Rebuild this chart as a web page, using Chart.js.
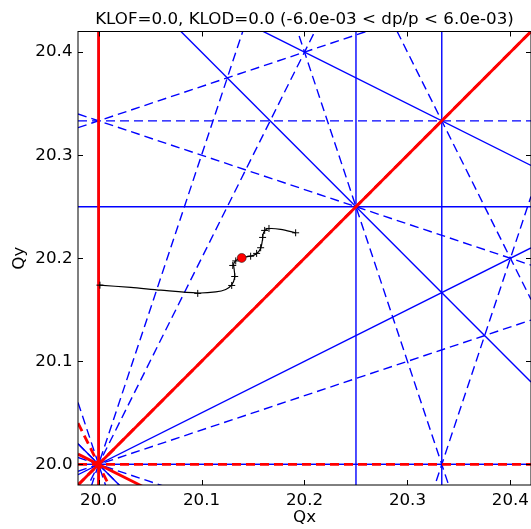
<!DOCTYPE html>
<html>
<head>
<meta charset="utf-8">
<title>Tune footprint</title>
<script src="https://cdn.jsdelivr.net/npm/chart.js@4.4.1/dist/chart.umd.min.js"></script>
<style>
  html, body { margin: 0; padding: 0; background: #fff; overflow: hidden; }
  #wrap { width: 531px; height: 529px; }
  #tuneChart { display: block; }
</style>
</head>
<body>
<div id="wrap"><canvas id="tuneChart" width="531" height="529"></canvas></div>
<script>
// axis limits and ticks
var qxLimits = [19.98, 20.42];
var qyLimits = [19.98, 20.42];
var qxTicks = [20.0, 20.1, 20.2, 20.3, 20.4];
var qyTicks = [20.0, 20.1, 20.2, 20.3, 20.4];

// resonance lines m*Qx + n*Qy = p up to 4th order
var resonances = [
    [1, 0, 20], [0, 1, 20],
    [2, 0, 40], [0, 2, 40], [1, 1, 40], [1, -1, 0],
    [3, 0, 60], [3, 0, 61], [0, 3, 60], [0, 3, 61],
    [2, 1, 60], [2, 1, 61], [1, 2, 60], [1, 2, 61],
    [2, -1, 20], [1, -2, -20],
    [4, 0, 80], [4, 0, 81], [0, 4, 80], [0, 4, 81],
    [3, 1, 80], [3, 1, 81], [1, 3, 80], [1, 3, 81],
    [2, 2, 80], [2, 2, 81], [2, -2, 0],
    [3, -1, 40], [3, -1, 41], [1, -3, -40], [1, -3, -41]
];
var superPeriod = 6;

// tune vs dp/p
var detuneQx = [20.0006, 20.0313, 20.0604, 20.0963, 20.1138, 20.1235, 20.1293, 20.1322, 20.1317, 20.1312,
                20.1341, 20.1390, 20.1477, 20.1531, 20.1574, 20.1591, 20.1603, 20.1642, 20.1768, 20.1914];
var detuneQy = [20.1739, 20.1717, 20.1690, 20.1663, 20.1673, 20.1697, 20.1741, 20.1814, 20.1891, 20.1945,
                20.1984, 20.2005, 20.2020, 20.2042, 20.2095, 20.2173, 20.2250, 20.2286, 20.2281, 20.2247];
var stepQx = [20.0013, 20.0963, 20.1293, 20.1322, 20.1303, 20.1332, 20.1477, 20.1535, 20.1574, 20.1593, 20.1613, 20.1655, 20.1914];
var stepQy = [20.1739, 20.1659, 20.1736, 20.1823, 20.1930, 20.1974, 20.2020, 20.2047, 20.2102, 20.2202, 20.2270, 20.2289, 20.2247];
var nominalTune = [20.1390, 20.2003];

var axisFont = { family: 'DejaVu Sans', size: 16.7, weight: 'normal' };

function resonanceSegment(m, n, p) {
    if (n === 0) {
        return [{ x: p / m, y: qyLimits[0] }, { x: p / m, y: qyLimits[1] }];
    }
    return qxLimits.map(function(qx) {
        return { x: qx, y: (p - m * qx) / n };
    });
}

var datasets = [];

resonances.forEach(function(r) {
    var systematic = r[2] % superPeriod === 0;
    var skew = Math.abs(r[1]) % 2 === 1;
    datasets.push({
        data: resonanceSegment(r[0], r[1], r[2]),
        showLine: true,
        pointRadius: 0,
        borderColor: systematic ? '#ff0000' : '#0000ff',
        borderWidth: systematic ? 2.8 : 1.4,
        borderDash: skew ? [9, 5] : [],
        clip: 0,
        order: systematic ? 3 : 4
    });
});

// detuning curve
datasets.push({
    data: detuneQx.map(function(q, i) { return { x: q, y: detuneQy[i] }; }),
    showLine: true,
    pointRadius: 0,
    borderColor: '#000',
    borderWidth: 1.2,
    tension: 0.3,
    order: 2
});

// dp/p steps
datasets.push({
    data: stepQx.map(function(q, i) { return { x: q, y: stepQy[i] }; }),
    showLine: false,
    pointStyle: 'cross',
    pointRadius: 3.5,
    borderColor: '#000',
    borderWidth: 1,
    order: 1
});

// on-momentum tune
datasets.push({
    data: [{ x: nominalTune[0], y: nominalTune[1] }],
    showLine: false,
    pointStyle: 'circle',
    pointRadius: 4.5,
    backgroundColor: '#ff0000',
    borderColor: '#000',
    borderWidth: 0.5,
    order: 0
});

// frame with inward ticks on all four sides
var frameTicks = {
    id: 'frameTicks',
    afterDraw: function(chart) {
        var ctx = chart.ctx;
        var a = chart.chartArea;
        var x = chart.scales.x;
        var y = chart.scales.y;
        ctx.save();
        ctx.strokeStyle = '#000';
        ctx.lineWidth = 1;
        ctx.beginPath();
        qxTicks.forEach(function(v) {
            var px = Math.round(x.getPixelForValue(v)) + 0.5;
            ctx.moveTo(px, a.bottom); ctx.lineTo(px, a.bottom - 5);
            ctx.moveTo(px, a.top); ctx.lineTo(px, a.top + 5);
        });
        qyTicks.forEach(function(v) {
            var py = Math.round(y.getPixelForValue(v)) + 0.5;
            ctx.moveTo(a.left, py); ctx.lineTo(a.left + 5, py);
            ctx.moveTo(a.right, py); ctx.lineTo(a.right - 5, py);
        });
        ctx.stroke();
        ctx.strokeRect(a.left, a.top, a.right - a.left, a.bottom - a.top);
        ctx.restore();
    }
};

new Chart(document.getElementById('tuneChart'), {
    type: 'scatter',
    data: { datasets: datasets },
    options: {
        responsive: false,
        animation: false,
        devicePixelRatio: 1,
        events: [],
        layout: { padding: 0, autoPadding: false },
        plugins: {
            legend: { display: false },
            tooltip: { enabled: false },
            title: { display: false }
        },
        scales: {
            x: {
                type: 'linear',
                position: 'bottom',
                min: qxLimits[0],
                max: qxLimits[1],
                grid: { display: false, drawTicks: true, tickLength: 6 },
                border: { display: false },
                afterBuildTicks: function(s) { s.ticks = qxTicks.map(function(v) { return { value: v }; }); },
                afterFit: function(s) { s.height = 44; s.paddingLeft = 0; s.paddingRight = 0; },
                ticks: {
                    callback: function(v) { return v.toFixed(1); },
                    font: axisFont, color: '#000', padding: 0,
                    maxRotation: 0, autoSkip: false
                },
                title: { display: true, text: 'Qx', font: axisFont, color: '#000', padding: { top: 0, bottom: 1 } }
            },
            xTop: {
                type: 'linear',
                axis: 'x',
                position: 'top',
                display: true,
                min: qxLimits[0],
                max: qxLimits[1],
                grid: { display: false, drawTicks: false },
                border: { display: false },
                ticks: { display: false, padding: 0 },
                afterFit: function(s) { s.height = 31.5; s.paddingLeft = 0; s.paddingRight = 0; },
                title: {
                    display: true,
                    text: 'KLOF=0.0, KLOD=0.0 (-6.0e-03 < dp/p < 6.0e-03)',
                    font: axisFont, color: '#000', padding: { top: 9.5, bottom: 0 }
                }
            },
            y: {
                type: 'linear',
                position: 'left',
                min: qyLimits[0],
                max: qyLimits[1],
                grid: { display: false, drawTicks: true, tickLength: 5.5 },
                border: { display: false },
                afterBuildTicks: function(s) { s.ticks = qyTicks.map(function(v) { return { value: v }; }); },
                afterFit: function(s) { s.width = 78; },
                ticks: {
                    callback: function(v) { return v.toFixed(1); },
                    font: axisFont, color: '#000', padding: 0,
                    autoSkip: false
                },
                title: { display: true, text: 'Qy', font: axisFont, color: '#000', padding: { top: 10, bottom: 0 } }
            }
        }
    },
    plugins: [frameTicks]
});
</script>
</body>
</html>
